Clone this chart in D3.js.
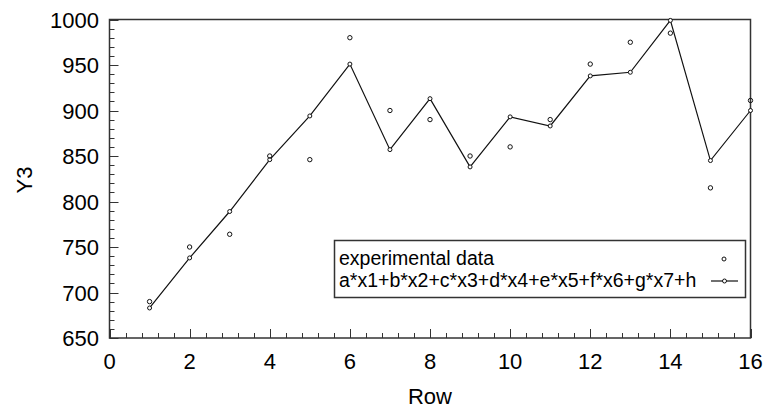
<!DOCTYPE html>
<html>
<head>
<meta charset="utf-8">
<script src="https://cdn.jsdelivr.net/npm/d3@7"></script>
<style>
  body { margin: 0; background: #fff; }
  svg { display: block; font-family: "Liberation Sans", Arial, sans-serif; }
</style>
</head>
<body>
<svg id="chart" width="767" height="409"></svg>
<script>
// data
var rows = [1, 2, 3, 4, 5, 6, 7, 8, 9, 10, 11, 12, 13, 14, 15, 16];
var experimental = [690, 750, 764, 850, 846, 980, 900, 890, 850, 860, 890, 951, 975, 985, 815, 911];
var fitted = [683, 738, 789, 846, 894, 951, 857, 913, 838, 893, 883, 938, 942, 999, 845, 900];
var xTicks = [0, 2, 4, 6, 8, 10, 12, 14, 16];
var yTicks = [650, 700, 750, 800, 850, 900, 950, 1000];
var legendLabels = ["experimental data", "a*x1+b*x2+c*x3+d*x4+e*x5+f*x6+g*x7+h"];

var svg = d3.select("#chart");
var plotLeft = 109.5, plotRight = 750.5, plotTop = 19.5, plotBottom = 338;

var x = d3.scaleLinear().domain([0, 16]).range([plotLeft, plotRight]);
var y = d3.scaleLinear().domain([650, 1000]).range([plotBottom, plotTop]);

// minor ticks (inward)
var xMinor = d3.range(0, 16.01, 0.4).filter(function(v) { return Math.abs(v / 2 - Math.round(v / 2)) > 0.01; });
var yMinor = d3.range(650, 1001, 10).filter(function(v) { return v % 50 !== 0; });

var ticks = svg.append("g").attr("stroke", "#333").attr("stroke-width", 1);
ticks.selectAll("line.xmaj").data(xTicks).enter().append("line")
    .attr("x1", function(d) { return Math.round(x(d)) + 0.5; })
    .attr("x2", function(d) { return Math.round(x(d)) + 0.5; })
    .attr("y1", plotBottom).attr("y2", plotBottom - 9);
ticks.selectAll("line.xmin").data(xMinor).enter().append("line")
    .attr("x1", function(d) { return Math.round(x(d)) + 0.5; })
    .attr("x2", function(d) { return Math.round(x(d)) + 0.5; })
    .attr("y1", plotBottom).attr("y2", plotBottom - 5);
ticks.selectAll("line.ymaj").data(yTicks).enter().append("line")
    .attr("y1", function(d) { return Math.round(y(d)) + 0.5; })
    .attr("y2", function(d) { return Math.round(y(d)) + 0.5; })
    .attr("x1", plotLeft).attr("x2", plotLeft + 9);
ticks.selectAll("line.ymin").data(yMinor).enter().append("line")
    .attr("y1", function(d) { return Math.round(y(d)) + 0.5; })
    .attr("y2", function(d) { return Math.round(y(d)) + 0.5; })
    .attr("x1", plotLeft).attr("x2", plotLeft + 5);

// frame
svg.append("rect")
    .attr("x", plotLeft).attr("y", plotTop)
    .attr("width", plotRight - plotLeft).attr("height", plotBottom - plotTop)
    .attr("fill", "none").attr("stroke", "#333").attr("stroke-width", 1.5);

// tick labels
svg.append("g").selectAll("text").data(xTicks).enter().append("text")
    .attr("x", function(d) { return x(d); })
    .attr("y", 369)
    .attr("text-anchor", "middle")
    .attr("font-size", 22)
    .text(function(d) { return d; });

svg.append("g").selectAll("text").data(yTicks).enter().append("text")
    .attr("x", 99)
    .attr("y", function(d) { return y(d) + 8; })
    .attr("text-anchor", "end")
    .attr("font-size", 22)
    .text(function(d) { return d; });

// axis titles
svg.append("text").attr("x", 430).attr("y", 404)
    .attr("text-anchor", "middle").attr("font-size", 22).text("Row");
svg.append("text")
    .attr("transform", "translate(32,180) rotate(-90)")
    .attr("text-anchor", "middle").attr("font-size", 22).text("Y3");

// fitted line
var line = d3.line()
    .x(function(d, i) { return x(rows[i]); })
    .y(function(d) { return y(d); });

svg.append("path").datum(fitted)
    .attr("d", line)
    .attr("fill", "none").attr("stroke", "#111").attr("stroke-width", 1.2);

svg.append("g").selectAll("circle").data(fitted).enter().append("circle")
    .attr("cx", function(d, i) { return x(rows[i]); })
    .attr("cy", function(d) { return y(d); })
    .attr("r", 2)
    .attr("fill", "#fff").attr("stroke", "#111").attr("stroke-width", 1);

// experimental points
svg.append("g").selectAll("circle").data(experimental).enter().append("circle")
    .attr("cx", function(d, i) { return x(rows[i]); })
    .attr("cy", function(d) { return y(d); })
    .attr("r", 2.2)
    .attr("fill", "none").attr("stroke", "#111").attr("stroke-width", 1);

// legend
var lg = svg.append("g");
lg.append("rect").attr("x", 334.5).attr("y", 240.5).attr("width", 411).attr("height", 57)
    .attr("fill", "#fff").attr("stroke", "#333").attr("stroke-width", 1.5);
lg.selectAll("text").data(legendLabels).enter().append("text")
    .attr("x", 339)
    .attr("y", function(d, i) { return 265 + i * 21.5; })
    .attr("font-size", 19.5)
    .text(function(d) { return d; });
lg.append("circle").attr("cx", 724).attr("cy", 259).attr("r", 2)
    .attr("fill", "none").attr("stroke", "#111");
lg.append("line").attr("x1", 711).attr("x2", 738).attr("y1", 281).attr("y2", 281)
    .attr("stroke", "#111").attr("stroke-width", 1.2);
lg.append("circle").attr("cx", 724.5).attr("cy", 281).attr("r", 2)
    .attr("fill", "#fff").attr("stroke", "#111");
</script>
</body>
</html>
